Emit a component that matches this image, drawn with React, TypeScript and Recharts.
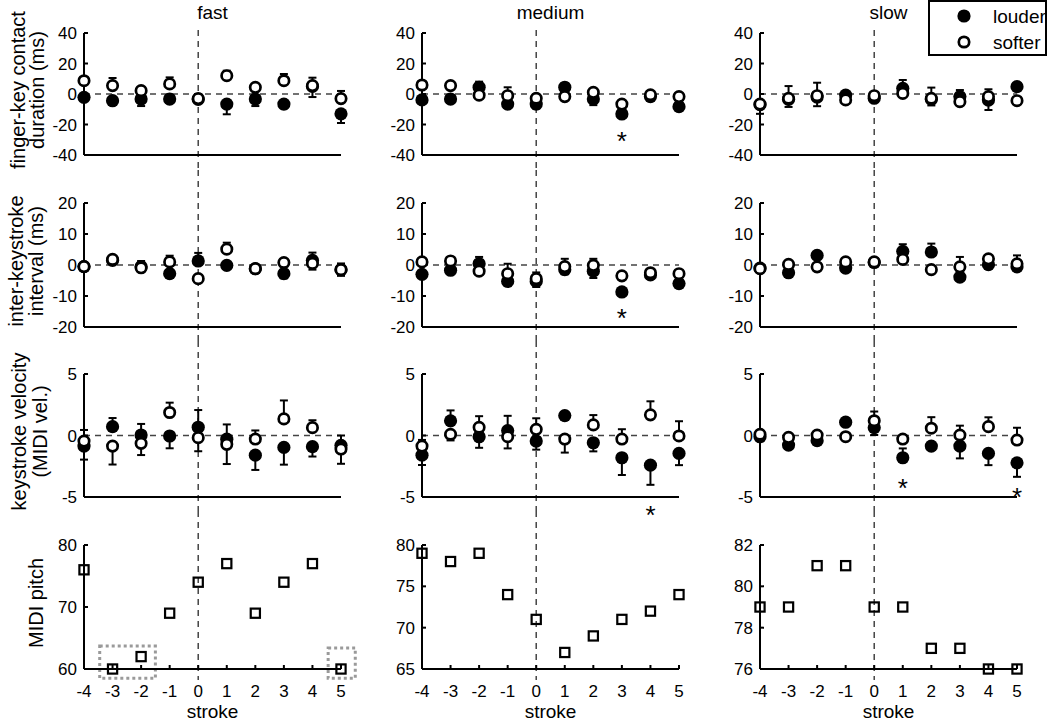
import React from 'react';
import { ScatterChart, Scatter, XAxis, YAxis, ErrorBar, ReferenceLine, ReferenceDot, ReferenceArea } from 'recharts';

const FONT = "'Liberation Sans', Arial, Helvetica, sans-serif";

// ---------- data ----------
const strokes = [-4, -3, -2, -1, 0, 1, 2, 3, 4, 5];
const tempos = ['fast', 'medium', 'slow'];

// finger-key contact duration (ms); errors: + = bar upward, - = bar downward
const fastDurLouder = [-2.2, -4.4, -3.3, -3.3, -3.5, -6.6, -3.3, -6.6, 5, -13];
const fastDurLouderErr = [-2, -2, -4.6, -1.5, -2, -6.7, -4.6, -2.8, -7, -6];
const fastDurSofter = [8.7, 5.5, 2.2, 6.6, -3, 12, 4.4, 8.7, 5.5, -3];
const fastDurSofterErr = [2, 5, 1.5, 4.3, 3, 3.3, 2, 4.4, 5.2, 5];

const mediumDurLouder = [-3.9, -3.3, 4.4, -6.6, -6.6, 4.4, -3.3, -13.1, -1.7, -8.3];
const mediumDurLouderErr = [-2, -2, 3.7, -2, -3, 2.6, -4, -2, -1.5, -2];
const mediumDurSofter = [5.9, 5.5, -0.8, -1.1, -2.8, -1.7, 1.1, -6.6, -0.5, -1.7];
const mediumDurSofterErr = [2, 2, -2, 5.5, 2, -2, 2, 1.5, 1.5, 1.5];

const slowDurLouder = [-7, -3.5, -2, -0.7, -2.8, 3.7, -3.5, -1.7, -4, 4.8];
const slowDurLouderErr = [-6, -5, -6, 1.5, -2, 5.5, -4, 4.3, -6.5, 2];
const slowDurSofter = [-6.6, -2.8, -1.1, -3.9, -1.1, 0.4, -2.8, -5.0, -1.7, -4.4];
const slowDurSofterErr = [2, 8, 8.5, -2, 2, -2, 7, -2, 4.8, -2];

// inter-keystroke interval (ms)
const fastIoiLouder = [-0.5, 1.5, -0.5, -2.8, 1.3, -0.1, -1.2, -2.8, 1.5, -1.5];
const fastIoiLouderErr = [-0.8, -1, 1.8, -1, 2.6, -1, -0.8, -1.5, 2.5, -2];
const fastIoiSofter = [-0.5, 1.8, -0.9, 1.0, -4.4, 5.1, -1.2, 0.8, 0.5, -1.5];
const fastIoiSofterErr = [0.8, 1, -1, 2, -1, 2.1, 0.8, 1, -2, 2];

const mediumIoiLouder = [-3.0, -1.7, 0.4, -5.3, -5.3, -1.5, -2.0, -8.7, -3.2, -6.0];
const mediumIoiLouderErr = [-1, -1, 2.2, -1.5, -1.8, -1.5, -2.2, -1, -1, -1];
const mediumIoiSofter = [1.0, 1.3, -2.0, -2.8, -4.4, -0.5, -0.1, -3.5, -2.5, -2.8];
const mediumIoiSofterErr = [1, 1, -1, 3.2, 2, 2.5, 2.1, 1, 1, 1];

const slowIoiLouder = [-1.0, -2.5, 3.1, -1.0, 0.8, 4.4, 4.2, -3.9, 0.1, -0.6];
const slowIoiLouderErr = [1, -1, 1, -1, -1, 2.3, 2.7, -1, -1, -1];
const slowIoiSofter = [-1.2, 0.2, -0.6, 1.0, 1.0, 1.8, -1.5, -0.6, 2.0, 0.4];
const slowIoiSofterErr = [-1, 1, -1, 1, 1, -1, -1, 3.2, 1, 2.7];

// keystroke velocity (MIDI vel.)
const fastVelLouder = [-0.86, 0.72, 0.04, -0.04, 0.67, -0.3, -1.6, -0.97, -0.91, -0.8];
const fastVelLouderErr = [-1.1, 0.7, 0.9, -1.0, 1.4, 1.2, -1.2, -1.4, -0.8, 0.8];
const fastVelSofter = [-0.45, -0.86, -0.64, 1.87, -0.18, -0.72, -0.29, 1.35, 0.64, -1.1];
const fastVelSofterErr = [0.9, -1.5, -0.95, 0.8, -1.1, -1.6, 0.7, 1.5, 0.6, -1.2];

const mediumVelLouder = [-1.6, 1.19, -0.1, 0.4, -0.45, 1.62, -0.59, -1.81, -2.41, -1.46];
const mediumVelLouderErr = [-0.8, 0.85, -0.9, 1.2, -0.7, 0.3, -0.7, -1.4, -1.6, -0.95];
const mediumVelSofter = [-0.86, 0.1, 0.67, -0.1, 0.5, -0.29, 0.86, -0.29, 1.68, -0.04];
const mediumVelSofterErr = [0.5, -0.5, 0.9, -0.95, 0.9, -1.1, 0.8, 0.8, 1.1, 1.2];

const slowVelLouder = [-0.1, -0.78, -0.42, 1.08, 0.64, -1.81, -0.86, -0.86, -1.46, -2.22];
const slowVelLouderErr = [-0.3, -0.3, -0.3, 0.3, -0.6, 0.76, -0.3, -1.0, -0.95, -1.14];
const slowVelSofter = [0.1, -0.15, 0.04, -0.1, 1.2, -0.29, 0.59, 0.04, 0.72, -0.37];
const slowVelSofterErr = [0.3, 0.2, 0.2, -0.2, 0.75, 0.2, 0.9, 0.76, 0.76, 1.0];

// MIDI pitch
const fastPitch = [76, 60, 62, 69, 74, 77, 69, 74, 77, 60];
const mediumPitch = [79, 78, 79, 74, 71, 67, 69, 71, 72, 74];
const slowPitch = [79, 79, 81, 81, 79, 79, 77, 77, 76, 76];

// significance markers
const mediumDurStars = [{ x: 3, y: -27 }];
const mediumIoiStars = [{ x: 3, y: -15.2 }];
const mediumVelStars = [{ x: 4, y: -6 }];
const slowVelStars = [{ x: 1, y: -3.8 }, { x: 5, y: -4.5 }];

// dotted highlight boxes (fast pitch)
const fastPitchBoxes = [
  { x1: -3.45, x2: -1.5, y1: 58.5, y2: 63.7 },
  { x1: 4.55, x2: 5.5, y1: 58.5, y2: 63.4 },
];

// axis ticks
const durTicks = [-40, -20, 0, 20, 40];
const ioiTicks = [-20, -10, 0, 10, 20];
const velTicks = [-5, 0, 5];
const fastPitchTicks = [60, 70, 80];
const mediumPitchTicks = [65, 70, 75, 80];
const slowPitchTicks = [76, 78, 80, 82];

// ---------- helpers ----------
const series = (vals: number[], errs?: number[]) =>
  strokes.map((x, i) => ({
    x,
    y: vals[i],
    err: errs ? (errs[i] >= 0 ? [0, errs[i]] : [-errs[i], 0]) : undefined,
  }));

type PanelSpec = {
  domain: [number, number];
  ticks: number[];
  louder?: any[];
  softer?: any[];
  pitch?: any[];
  stars?: { x: number; y: number }[];
  boxes?: { x1: number; x2: number; y1: number; y2: number }[];
};

const PANELS: PanelSpec[][] = [
  [
    { domain: [-40, 40], ticks: durTicks, louder: series(fastDurLouder, fastDurLouderErr), softer: series(fastDurSofter, fastDurSofterErr) },
    { domain: [-40, 40], ticks: durTicks, louder: series(mediumDurLouder, mediumDurLouderErr), softer: series(mediumDurSofter, mediumDurSofterErr), stars: mediumDurStars },
    { domain: [-40, 40], ticks: durTicks, louder: series(slowDurLouder, slowDurLouderErr), softer: series(slowDurSofter, slowDurSofterErr) },
  ],
  [
    { domain: [-20, 20], ticks: ioiTicks, louder: series(fastIoiLouder, fastIoiLouderErr), softer: series(fastIoiSofter, fastIoiSofterErr) },
    { domain: [-20, 20], ticks: ioiTicks, louder: series(mediumIoiLouder, mediumIoiLouderErr), softer: series(mediumIoiSofter, mediumIoiSofterErr), stars: mediumIoiStars },
    { domain: [-20, 20], ticks: ioiTicks, louder: series(slowIoiLouder, slowIoiLouderErr), softer: series(slowIoiSofter, slowIoiSofterErr) },
  ],
  [
    { domain: [-5, 5], ticks: velTicks, louder: series(fastVelLouder, fastVelLouderErr), softer: series(fastVelSofter, fastVelSofterErr) },
    { domain: [-5, 5], ticks: velTicks, louder: series(mediumVelLouder, mediumVelLouderErr), softer: series(mediumVelSofter, mediumVelSofterErr), stars: mediumVelStars },
    { domain: [-5, 5], ticks: velTicks, louder: series(slowVelLouder, slowVelLouderErr), softer: series(slowVelSofter, slowVelSofterErr), stars: slowVelStars },
  ],
  [
    { domain: [60, 80], ticks: fastPitchTicks, pitch: series(fastPitch), boxes: fastPitchBoxes },
    { domain: [65, 80], ticks: mediumPitchTicks, pitch: series(mediumPitch) },
    { domain: [76, 82], ticks: slowPitchTicks, pitch: series(slowPitch) },
  ],
];

const Y_LABELS: { lines: string[]; xs: number[] }[] = [
  { lines: ['finger-key contact', 'duration (ms)'], xs: [25, 44] },
  { lines: ['inter-keystroke', 'interval (ms)'], xs: [23, 43] },
  { lines: ['keystroke velocity', '(MIDI vel.)'], xs: [26, 47] },
  { lines: ['MIDI pitch'], xs: [43] },
];

// ---------- layout ----------
const COL_LEFT = [0, 338, 676];
const AXIS_W = 84;
const PLOT_W = 257;
const CHART_W = 371;
const ROW_LAYOUT = [
  { top: 0, mTop: 33, plotH: 122, xH: 15, extra: 0 },
  { top: 170, mTop: 33, plotH: 124, xH: 14, extra: 0 },
  { top: 341, mTop: 33, plotH: 123, xH: 14, extra: 24 },
  { top: 511, mTop: 34, plotH: 124, xH: 53, extra: 0 },
];

const TICK_FONT = 17;

const FilledDot = (p: any) => <circle cx={p.cx} cy={p.cy} r={6.6} fill="#000" />;
const OpenDot = (p: any) => <circle cx={p.cx} cy={p.cy} r={5.2} fill="#fff" stroke="#000" strokeWidth={2.7} />;
const SquareMark = (p: any) => (
  <rect x={p.cx - 4.6} y={p.cy - 4.6} width={9.2} height={9.2} fill="none" stroke="#000" strokeWidth={2.2} />
);
const Star = (p: any) => (
  <text x={p.cx} y={p.cy + 15} textAnchor="middle" fontSize={26} fontFamily={FONT} fill="#000">*</text>
);

const makeYLabel = (row: number) => (props: any) => {
  const vb = props.viewBox || {};
  const cy = (vb.y ?? 0) + (vb.height ?? 0) / 2 - 4;
  const spec = Y_LABELS[row];
  return (
    <g>
      {spec.lines.map((t, i) => (
        <text key={i} x={spec.xs[i]} y={cy} transform={`rotate(-90 ${spec.xs[i]} ${cy})`} textAnchor="middle" fontSize={20} fontFamily={FONT} fill="#000">
          {t}
        </text>
      ))}
    </g>
  );
};

const xLabel = (props: any) => {
  const vb = props.viewBox || {};
  return (
    <text x={(vb.x ?? 0) + (vb.width ?? 0) / 2} y={(vb.y ?? 0) + (vb.height ?? 0) - 4} textAnchor="middle" fontSize={19} fontFamily={FONT} fill="#000">
      stroke
    </text>
  );
};

function Panel({ row, col }: { row: number; col: number }) {
  const L = ROW_LAYOUT[row];
  const spec = PANELS[row][col];
  const [yMin, yMax] = spec.domain;
  const span = yMax - yMin;
  const segTop = yMax + ((row === 0 ? 3 : L.mTop) / L.plotH) * span;
  const segBottom = yMin - ((row === 3 ? 11 : L.xH) / L.plotH) * span;
  const height = L.mTop + L.plotH + L.xH + L.extra;
  const tickStyle = { fill: '#000', fontSize: TICK_FONT, fontFamily: FONT };
  return (
    <div style={{ position: 'absolute', left: COL_LEFT[col], top: L.top }}>
      <ScatterChart
        width={CHART_W}
        height={height}
        margin={{ top: L.mTop, right: CHART_W - AXIS_W - PLOT_W, bottom: L.extra, left: 0 }}
      >
        <XAxis
          type="number"
          dataKey="x"
          domain={[-4, 5]}
          ticks={strokes}
          interval={0}
          height={L.xH}
          axisLine={{ stroke: '#000', strokeWidth: 2 }}
          tickLine={{ stroke: '#000', strokeWidth: 2 }}
          tickSize={-4}
          tickMargin={20}
          tick={row === 3 ? tickStyle : false}
          label={row === 3 ? xLabel : undefined}
        />
        <YAxis
          type="number"
          dataKey="y"
          domain={spec.domain}
          ticks={spec.ticks}
          interval={0}
          width={AXIS_W}
          axisLine={{ stroke: '#000', strokeWidth: 2 }}
          tickLine={{ stroke: '#000', strokeWidth: 2 }}
          tickSize={-4}
          tickMargin={11}
          tick={tickStyle}
          label={col === 0 ? makeYLabel(row) : undefined}
        />
        {row < 3 && (
          <ReferenceLine y={0} stroke="#444" strokeWidth={1.5} strokeDasharray="6 5" />
        )}
        <ReferenceLine
          segment={[{ x: 0, y: segTop }, { x: 0, y: segBottom }]}
          ifOverflow="visible"
          stroke="#444"
          strokeWidth={1.5}
          strokeDasharray="6 5"
        />
        {(spec.boxes || []).map((b, i) => (
          <ReferenceArea
            key={'box' + i}
            x1={b.x1}
            x2={b.x2}
            y1={b.y1}
            y2={b.y2}
            ifOverflow="visible"
            fill="none"
            fillOpacity={0}
            stroke="#9a9a9a"
            strokeWidth={3}
            strokeDasharray="3 3"
          />
        ))}
        {spec.louder && (
          <Scatter name="louder" data={spec.louder} shape={FilledDot} isAnimationActive={false}>
            <ErrorBar dataKey="err" direction="y" width={4} stroke="#000" strokeWidth={2} />
          </Scatter>
        )}
        {spec.softer && (
          <Scatter name="softer" data={spec.softer} shape={OpenDot} isAnimationActive={false}>
            <ErrorBar dataKey="err" direction="y" width={4} stroke="#000" strokeWidth={2} />
          </Scatter>
        )}
        {spec.pitch && (
          <Scatter name="pitch" data={spec.pitch} shape={SquareMark} isAnimationActive={false} />
        )}
        {(spec.stars || []).map((s, i) => (
          <ReferenceDot key={'star' + i} x={s.x} y={s.y} ifOverflow="visible" shape={Star} />
        ))}
      </ScatterChart>
    </div>
  );
}

function Overlay() {
  return (
    <svg width={1050} height={60} style={{ position: 'absolute', left: 0, top: 0, pointerEvents: 'none' }}>
      {tempos.map((t, c) => (
        <text key={t} x={COL_LEFT[c] + AXIS_W + PLOT_W / 2} y={19} textAnchor="middle" fontSize={19} fontFamily={FONT} fill="#000">
          {t}
        </text>
      ))}
      <rect x={929} y={1} width={117} height={54} fill="#fff" stroke="#000" strokeWidth={2} />
      <circle cx={964} cy={16} r={6.6} fill="#000" />
      <text x={993} y={23} fontSize={19} fontFamily={FONT} fill="#000">louder</text>
      <circle cx={964} cy={42} r={5.2} fill="#fff" stroke="#000" strokeWidth={2.7} />
      <text x={993} y={49} fontSize={19} fontFamily={FONT} fill="#000">softer</text>
    </svg>
  );
}

export default function App() {
  return (
    <div style={{ position: 'absolute', left: 0, top: 0, width: 1050, height: 722, background: '#fff', fontFamily: FONT }}>
      {ROW_LAYOUT.map((_, r) => [0, 1, 2].map((c) => <Panel key={`${r}-${c}`} row={r} col={c} />))}
      <Overlay />
    </div>
  );
}
